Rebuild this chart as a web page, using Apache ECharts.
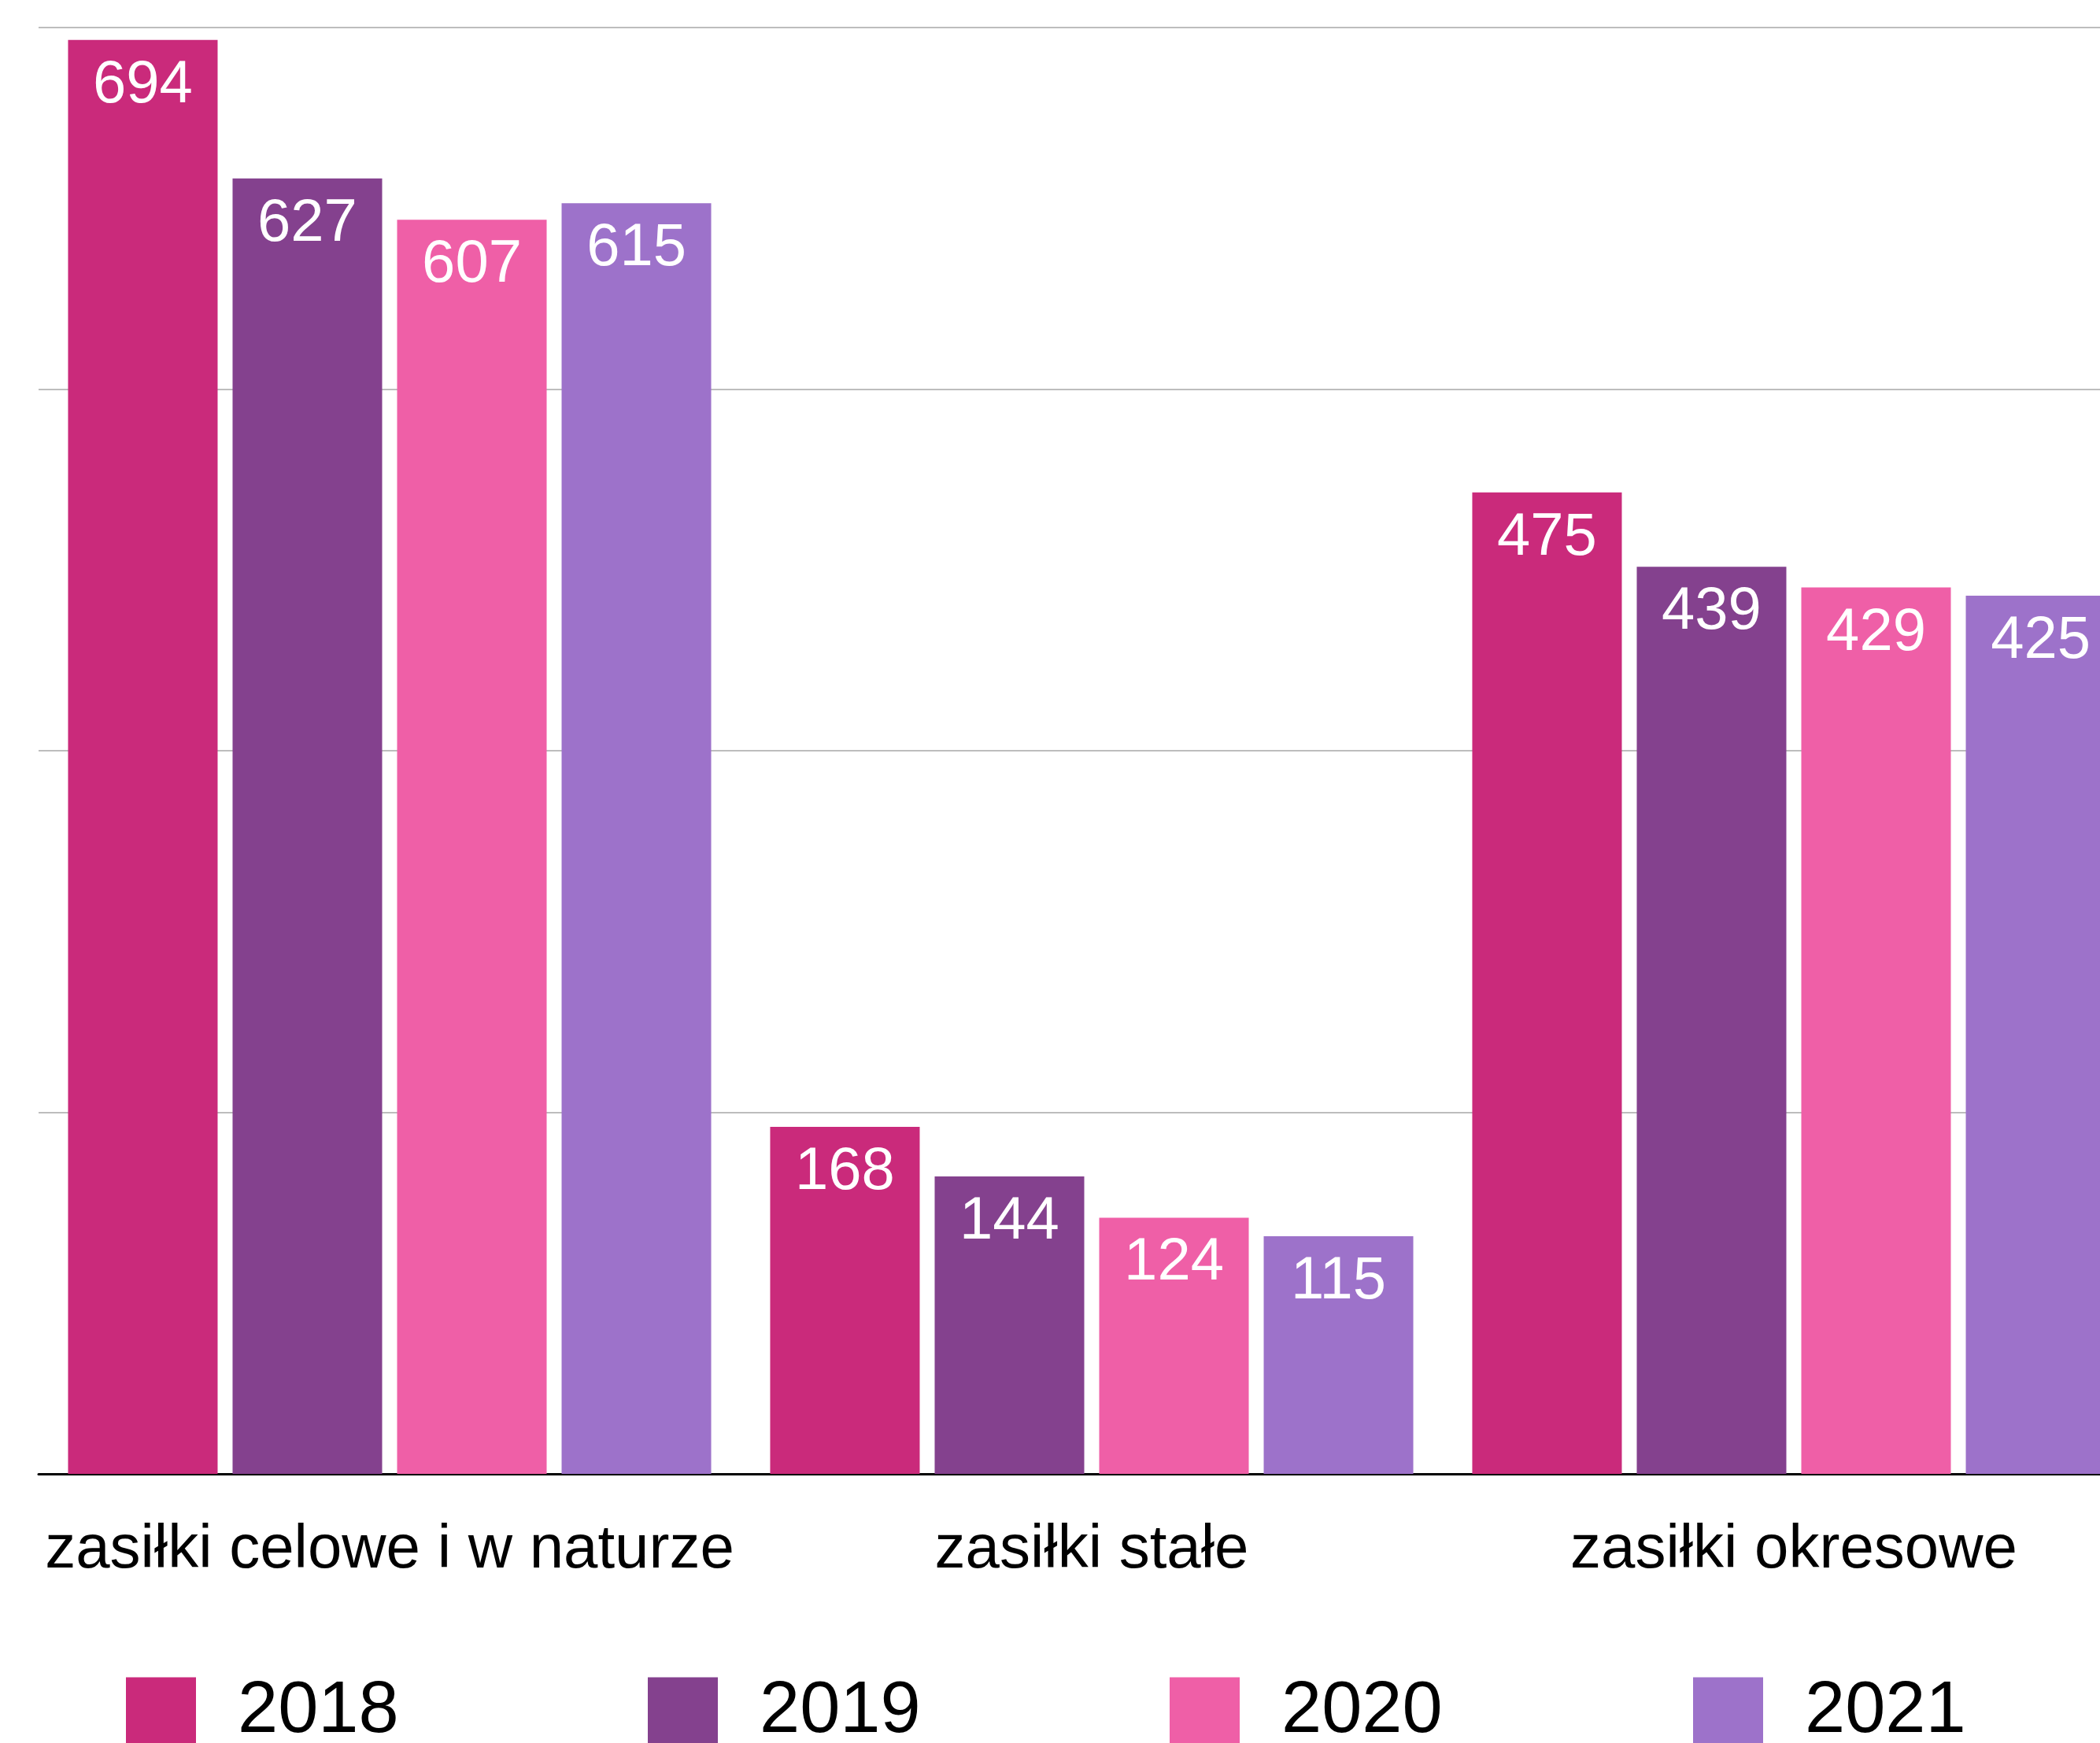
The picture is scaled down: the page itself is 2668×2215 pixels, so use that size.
<!DOCTYPE html>
<html>
<head>
<meta charset="utf-8">
<script src="https://cdn.jsdelivr.net/npm/echarts@6/dist/echarts.min.js"></script>
<style>
  html, body { margin: 0; padding: 0; background: #ffffff; }
  #chart { width: 2668px; height: 2215px; }
</style>
</head>
<body>
<div id="chart"></div>
<script>
// Benefit types on the category axis
const categories = ['zasiłki celowe i w naturze', 'zasiłki stałe', 'zasiłki okresowe'];
// Years, one bar series each
const years = ['2018', '2019', '2020', '2021'];
const values2018 = [694, 168, 475];
const values2019 = [627, 144, 439];
const values2020 = [607, 124, 429];
const values2021 = [615, 115, 425];
// Value axis range and gridline step
const yMin = 0;
const yMax = 700;
const yStep = 175;

const seriesValues = [values2018, values2019, values2020, values2021];
const colors = ['#CA2A7B', '#84418E', '#EF5FA7', '#9D72CA'];
const FONT = '"Liberation Sans", Arial, Helvetica, sans-serif';

const chart = echarts.init(document.getElementById('chart'), null, { renderer: 'canvas' });

const legendLefts = [160, 823, 1486, 2151];

chart.setOption({
  animation: false,
  backgroundColor: '#ffffff',
  // the plot runs past the right edge of the canvas
  grid: {
    left: 49, top: 35, width: 2676, height: 1838,
    containLabel: false,
    outerBoundsMode: 'none'
  },
  legend: years.map((y, i) => ({
    data: [y],
    left: legendLefts[i],
    top: 2130,
    padding: 0,
    icon: 'rect',
    itemWidth: 89,
    itemHeight: 89,
    selectedMode: false,
    textStyle: { fontSize: 92, color: '#000000', fontFamily: FONT, padding: [0, 0, 0, 48] }
  })),
  xAxis: {
    type: 'category',
    data: categories,
    axisTick: { show: false },
    axisLine: { lineStyle: { color: '#000000', width: 3 } },
    axisLabel: { color: '#000000', fontSize: 78, fontFamily: FONT, margin: 58, interval: 0 },
    splitLine: { show: false }
  },
  yAxis: {
    type: 'value',
    min: yMin,
    max: yMax,
    interval: yStep,
    axisLabel: { show: false },
    axisLine: { show: false },
    axisTick: { show: false },
    splitLine: { lineStyle: { color: '#bdbdbd', width: 2 } }
  },
  series: years.map((y, i) => ({
    name: y,
    type: 'bar',
    data: seriesValues[i],
    barGap: '10%',
    barCategoryGap: '8.4%',
    itemStyle: { color: colors[i] },
    label: {
      show: true,
      position: 'insideTop',
      distance: 20,
      color: '#ffffff',
      fontSize: 76,
      fontFamily: FONT
    }
  }))
});
</script>
</body>
</html>
